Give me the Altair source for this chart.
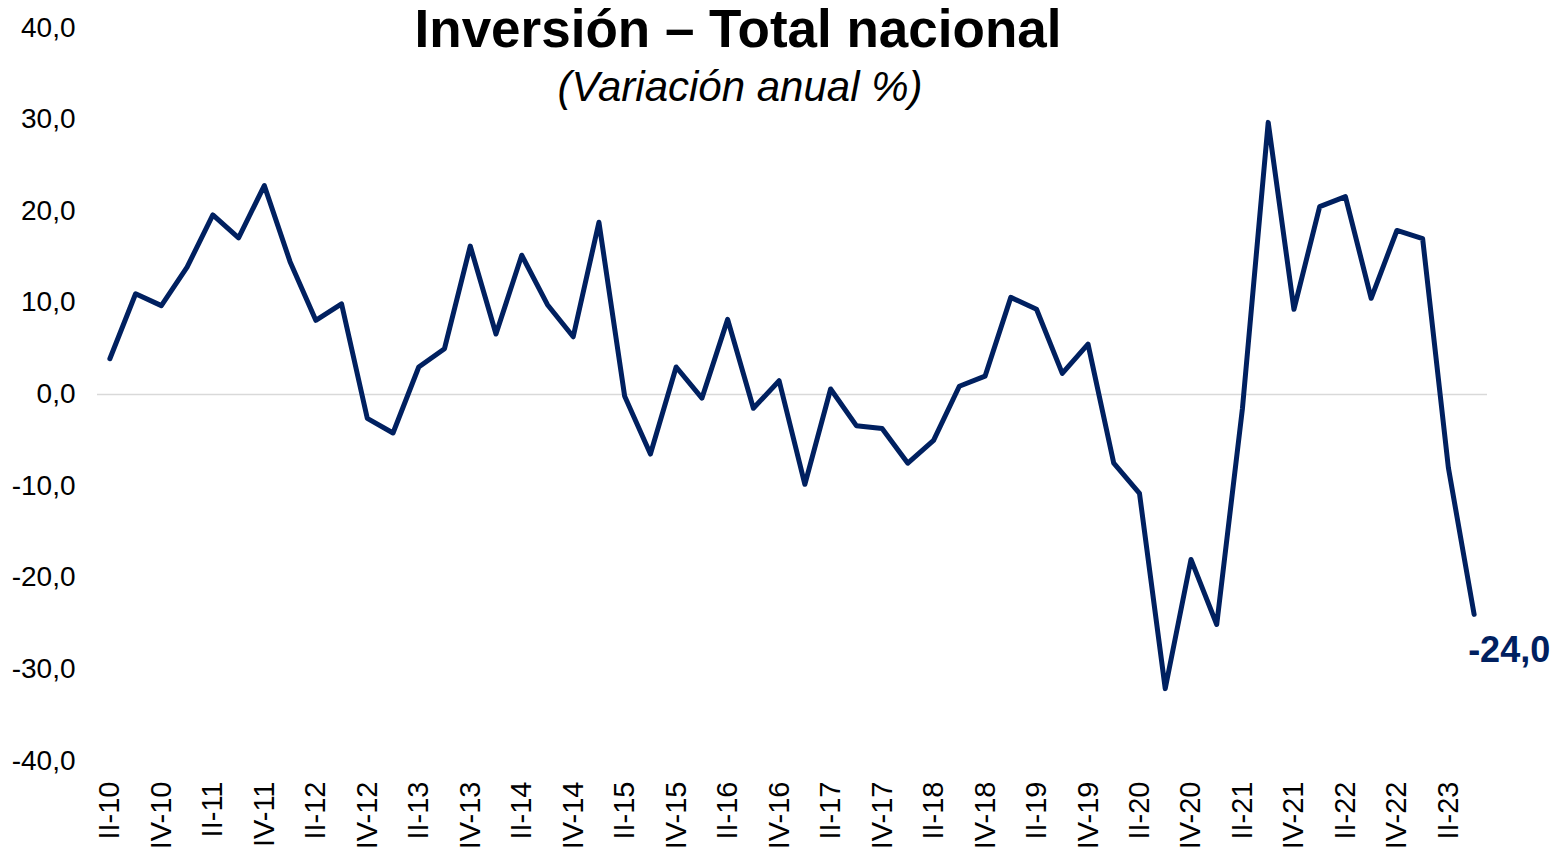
import altair as alt
import pandas as pd

quarters = [
    "II-10", "III-10", "IV-10",
    "I-11", "II-11", "III-11", "IV-11",
    "I-12", "II-12", "III-12", "IV-12",
    "I-13", "II-13", "III-13", "IV-13",
    "I-14", "II-14", "III-14", "IV-14",
    "I-15", "II-15", "III-15", "IV-15",
    "I-16", "II-16", "III-16", "IV-16",
    "I-17", "II-17", "III-17", "IV-17",
    "I-18", "II-18", "III-18", "IV-18",
    "I-19", "II-19", "III-19", "IV-19",
    "I-20", "II-20", "III-20", "IV-20",
    "I-21", "II-21", "III-21", "IV-21",
    "I-22", "II-22", "III-22", "IV-22",
    "I-23", "II-23", "III-23",
]
values = [
    3.9, 11.0, 9.7,
    13.9, 19.6, 17.1, 22.8,
    14.5, 8.1, 9.9, -2.6,
    -4.2, 3.0, 5.0, 16.2,
    6.6, 15.2, 9.8, 6.3,
    18.8, -0.2, -6.5, 3.0,
    -0.4, 8.2, -1.5, 1.5,
    -9.8, 0.6, -3.4, -3.7,
    -7.5, -5.0, 0.9, 2.0,
    10.6, 9.3, 2.3, 5.5,
    -7.5, -10.8, -32.1, -18.0,
    -25.1, -1.5, 29.7, 9.3,
    20.5, 21.6, 10.5, 17.9,
    17.0, -8.0, -24.0,
]
shown_ticks = [q for q in quarters if q.startswith("II-") or q.startswith("IV-")]
y_ticks = [-40, -30, -20, -10, 0, 10, 20, 30, 40]

title_text = "Inversión – Total nacional"
subtitle_text = "(Variación anual %)"

df = pd.DataFrame({"q": quarters, "v": values})
last = pd.DataFrame({"q": [quarters[-1]], "v": [values[-1]], "lbl": ["-24,0"]})
zero_df = pd.DataFrame({"v": [0]})

FONT = "Liberation Sans"
NAVY = "#002060"

x_enc = alt.X(
    "q:O",
    sort=quarters,
    scale=alt.Scale(paddingOuter=0.5),
    axis=alt.Axis(
        values=shown_ticks,
        labelAngle=-90,
        labelFontSize=29,
        labelFont=FONT,
        labelColor="black",
        labelPadding=20,
        ticks=False,
        domain=False,
        grid=False,
        title=None,
    ),
)
y_axis = alt.Axis(
    values=y_ticks,
    labelExpr="(datum.value < 0 ? '-' : '') + replace(format(abs(datum.value), '.1f'), '.', ',')",
    labelFontSize=28,
    labelFont=FONT,
    labelColor="black",
    labelPadding=22,
    ticks=False,
    domain=False,
    grid=False,
    title=None,
)
y_scale = alt.Scale(domain=[-40, 40], nice=False, zero=False)
y_enc = alt.Y("v:Q", scale=y_scale, axis=y_axis)

zero = alt.Chart(zero_df).mark_rule(color="#d9d9d9", strokeWidth=1.5).encode(y=y_enc)

line = alt.Chart(df).mark_line(color=NAVY, strokeWidth=5, strokeJoin="round", strokeCap="round").encode(
    x=x_enc, y=y_enc
)

lbl = alt.Chart(last).mark_text(
    font=FONT, fontSize=36, fontWeight="bold", color=NAVY, align="left", baseline="alphabetic", dx=-6, dy=48
).encode(x=alt.X("q:O", sort=quarters), y=y_enc, text="lbl:N")

title = alt.Chart(pd.DataFrame({"t": [title_text]})).mark_text(
    font=FONT, fontSize=53, fontWeight="bold", color="black", align="center", baseline="alphabetic"
).encode(x=alt.value(641), y=alt.value(19), text="t:N")

subtitle = alt.Chart(pd.DataFrame({"t": [subtitle_text]})).mark_text(
    font=FONT, fontSize=42, fontStyle="italic", color="black", align="center", baseline="alphabetic"
).encode(x=alt.value(643), y=alt.value(73), text="t:N")

chart = alt.layer(zero, line, lbl, title, subtitle).properties(
    width=1390,
    height=733,
    background="white",
    autosize=alt.AutoSizeParams(type="none"),
    padding={"left": 89, "top": 20, "right": 67, "bottom": 90},
).configure_view(stroke=None, strokeWidth=0)

chart.save("out.html", embed_options={"renderer": "svg", "actions": False})
